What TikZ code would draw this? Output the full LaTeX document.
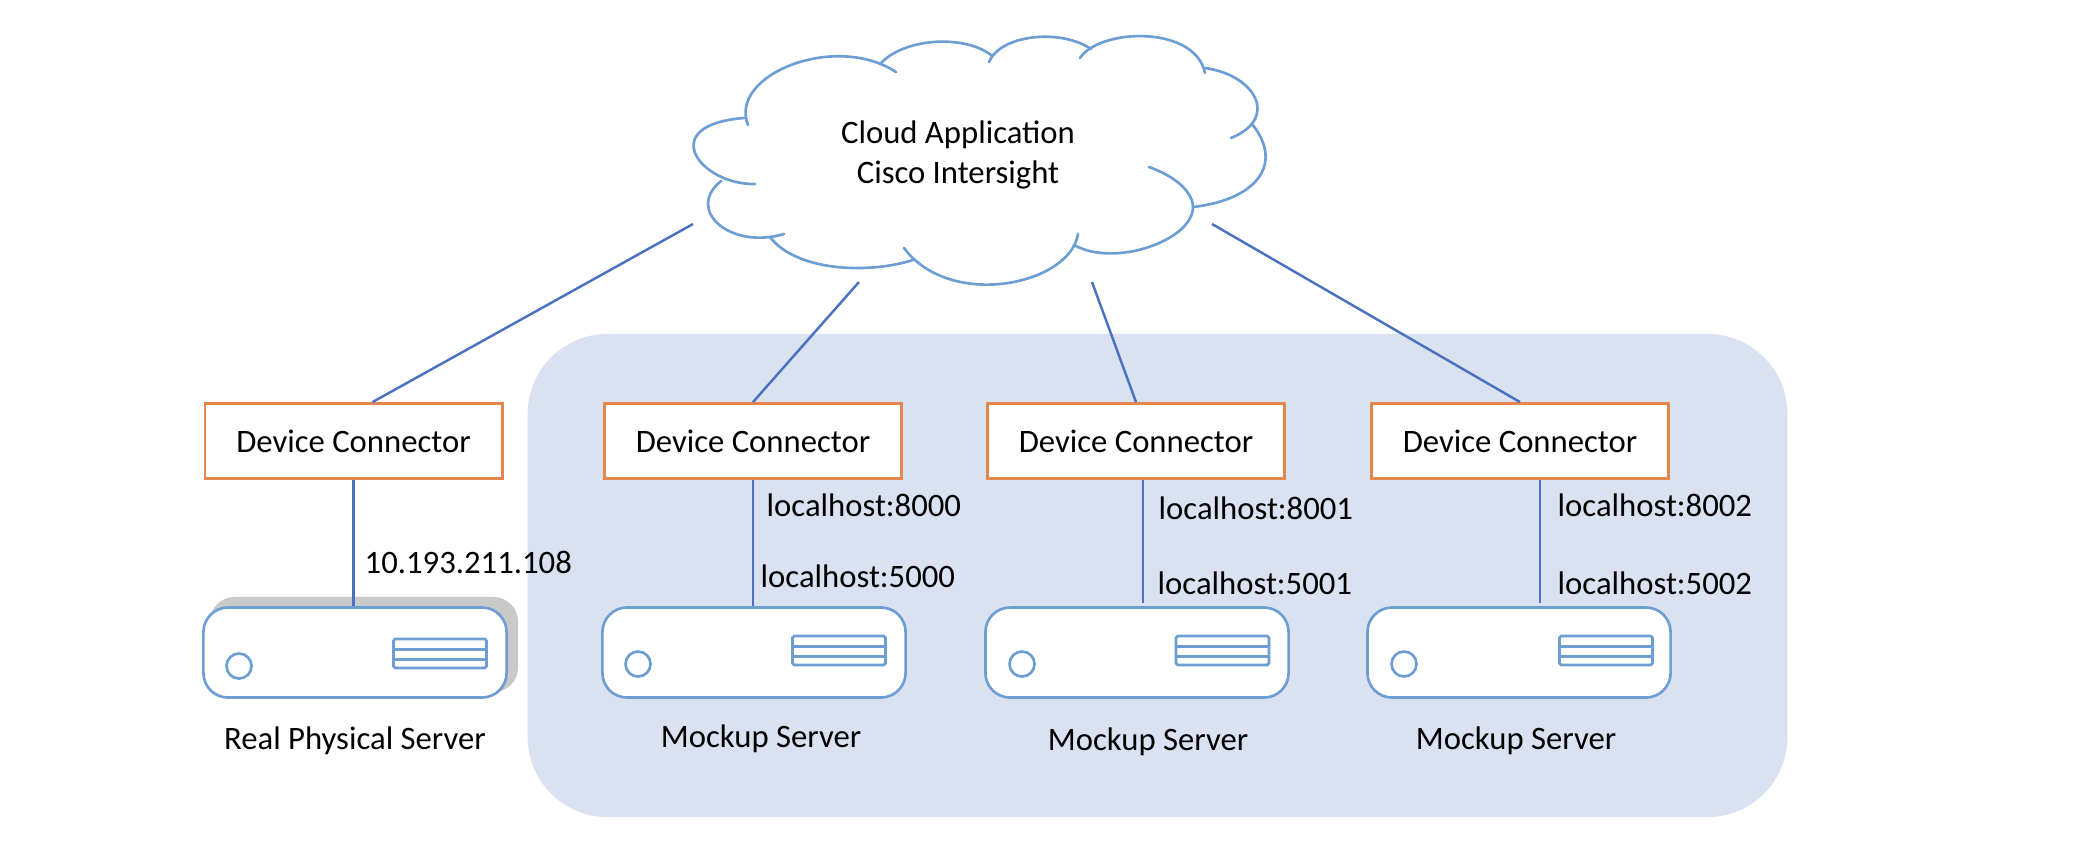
\documentclass[tikz,border=0pt]{standalone}
\usepackage{xcolor}
\usepackage{fontspec}
\setmainfont{Carlito}
\usetikzlibrary{calc}
\definecolor{mkOrange}{HTML}{E4874F}
\definecolor{mkPanel}{HTML}{DAE1F0}
\definecolor{mkCloud}{HTML}{6C9DD3}
\definecolor{mkLink}{HTML}{4A72C0}
\definecolor{mkShadow}{HTML}{C9C9C9}
\tikzset{
  % Device connector box (orange)
  dcbox/.style={rectangle,draw=mkOrange,fill=white,line width=0.8pt,
    minimum width=2.97cm,minimum height=0.75cm,inner sep=0pt,
    font=\fontsize{9.3}{11.5}\selectfont},
  % Server body
  srvbox/.style={rectangle,rounded corners=7pt,draw=mkCloud,fill=white,
    line width=0.75pt,minimum width=3.03cm,minimum height=0.90cm,inner sep=0pt},
  % Server grey backdrop
  shbox/.style={rectangle,rounded corners=7pt,fill=mkShadow,
    minimum width=3.08cm,minimum height=0.95cm,inner sep=0pt},
  % Server lamp and drive bay
  lamp/.style={circle,draw=mkCloud,line width=0.75pt,minimum size=0.25cm,inner sep=0pt},
  bay/.style={rectangle,rounded corners=0.5pt,draw=mkCloud,line width=0.75pt,
    minimum width=0.93cm,minimum height=0.29cm,inner sep=0pt},
  % Background panel
  panelbox/.style={rectangle,rounded corners=0.8cm,fill=mkPanel,
    minimum width=12.59cm,minimum height=4.83cm,inner sep=0pt},
  % Lines
  link/.style={draw=mkLink,line width=0.7pt},
  cloudline/.style={draw=mkCloud,line width=0.75pt,line cap=round},
  bayline/.style={draw=mkCloud,line width=0.75pt},
  % Text
  lbl/.style={font=\fontsize{9.3}{11.5}\selectfont,inner sep=0pt},
}
\begin{document}
\begin{tikzpicture}[x=0.01cm,y=-0.01cm]
  \useasboundingbox (0,0) rectangle (2098,842);

  % Panel behind the mockups
  \node[panelbox] (panel) at (1157.5,575.5) {};

  % Cloud outline
  \draw[cloudline] (748,125) .. controls (728,75) and (835,32) .. (896,72);
  \draw[cloudline] (880,64) .. controls (905,37) and (965,35) .. (991,55);
  \draw[cloudline] (989,62) .. controls (1000,35) and (1060,28) .. (1091,49);
  \draw[cloudline] (1080,58) .. controls (1100,28) and (1195,25) .. (1205,73);
  \draw[cloudline] (1205,68) .. controls (1255,75) and (1280,118) .. (1231,138);
  \draw[cloudline] (1252,124) .. controls (1285,165) and (1255,200) .. (1193,207);
  \draw[cloudline] (1149,167) .. controls (1180,178) and (1193,195) .. (1193,207)
    .. controls (1193,240) and (1115,268) .. (1074,245);
  \draw[cloudline] (1078,234) .. controls (1070,285) and (950,310) .. (904,248);
  \draw[cloudline] (913,260) .. controls (865,275) and (795,270) .. (770,237);
  \draw[cloudline] (784,234) .. controls (730,250) and (685,210) .. (721,181);
  \draw[cloudline] (755,184) .. controls (700,185) and (655,125) .. (744,118);
  \node[lbl,align=center] (cloudtxt) at (958,155) {Cloud Application\\Cisco Intersight};

  % Device connectors
  \node[dcbox] (dc0) at (353.5,441) {Device Connector};
  \node[dcbox] (dc1) at (753,441) {Device Connector};
  \node[dcbox] (dc2) at (1136,441) {Device Connector};
  \node[dcbox] (dc3) at (1520,441) {Device Connector};

  % Servers
  \node[shbox] (shade0) at (364,644.5) {};
  \node[srvbox] (srv0) at (355,652.5) {};
  \node[srvbox] (srv1) at (754,652.5) {};
  \node[srvbox] (srv2) at (1137,652.5) {};
  \node[srvbox] (srv3) at (1519,652.5) {};

  \node[lamp] (lamp0) at (239,666) {};
  \node[lamp] (lamp1) at (638,664) {};
  \node[lamp] (lamp2) at (1022,664) {};
  \node[lamp] (lamp3) at (1404,664) {};

  \node[bay] (bay0) at (440,653.5) {};
  \node[bay] (bay1) at (839,650.5) {};
  \node[bay] (bay2) at (1222.5,650.5) {};
  \node[bay] (bay3) at (1606,650.5) {};
  \draw[bayline] ($(bay0.north west)!0.37!(bay0.south west)$) -- ($(bay0.north east)!0.37!(bay0.south east)$);
  \draw[bayline] ($(bay0.north west)!0.68!(bay0.south west)$) -- ($(bay0.north east)!0.68!(bay0.south east)$);
  \draw[bayline] ($(bay1.north west)!0.37!(bay1.south west)$) -- ($(bay1.north east)!0.37!(bay1.south east)$);
  \draw[bayline] ($(bay1.north west)!0.68!(bay1.south west)$) -- ($(bay1.north east)!0.68!(bay1.south east)$);
  \draw[bayline] ($(bay2.north west)!0.37!(bay2.south west)$) -- ($(bay2.north east)!0.37!(bay2.south east)$);
  \draw[bayline] ($(bay2.north west)!0.68!(bay2.south west)$) -- ($(bay2.north east)!0.68!(bay2.south east)$);
  \draw[bayline] ($(bay3.north west)!0.37!(bay3.south west)$) -- ($(bay3.north east)!0.37!(bay3.south east)$);
  \draw[bayline] ($(bay3.north west)!0.68!(bay3.south west)$) -- ($(bay3.north east)!0.68!(bay3.south east)$);

  % Free line ends
  \coordinate (up0) at (693,224);
  \coordinate (up1) at (859,282);
  \coordinate (up2) at (1092,282);
  \coordinate (up3) at (1212,224);
  \coordinate (tap2) at (1143,603);
  \coordinate (tap3) at (1540,603);

  % Links
  \draw[link] (up0) -- ($(dc0.north)+(19,0)$);
  \draw[link] (up1) -- (dc1.north);
  \draw[link] (up2) -- (dc2.north);
  \draw[link] (up3) -- (dc3.north);
  \draw[link] (dc0.south) -- (dc0.south |- srv0.north);
  \draw[link] (dc1.south) -- (dc1.south |- srv1.north);
  \draw[link] (tap2 |- dc2.south) -- (tap2);
  \draw[link] (tap3 |- dc3.south) -- (tap3);

  % Address labels
  \node[lbl,anchor=west] (addr0) at (364,562) {10.193.211.108};
  \node[lbl,anchor=west] (port8000) at (766,505) {localhost:8000};
  \node[lbl,anchor=west] (port5000) at (760,576) {localhost:5000};
  \node[lbl,anchor=west] (port8001) at (1158,508) {localhost:8001};
  \node[lbl,anchor=west] (port5001) at (1157,583) {localhost:5001};
  \node[lbl,anchor=west] (port8002) at (1557,505) {localhost:8002};
  \node[lbl,anchor=west] (port5002) at (1557,583) {localhost:5002};

  % Server names
  \node[lbl] (name0) at (355,741) {Real Physical Server};
  \node[lbl] (name1) at (761,739) {Mockup Server};
  \node[lbl] (name2) at (1148,742) {Mockup Server};
  \node[lbl] (name3) at (1516,741) {Mockup Server};
\end{tikzpicture}
\end{document}
